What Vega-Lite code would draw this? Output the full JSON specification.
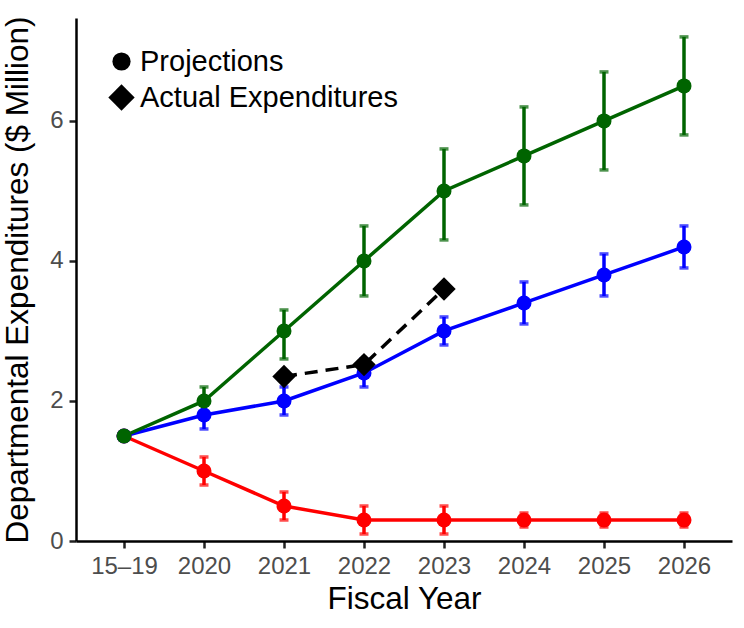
{
  "$schema": "https://vega.github.io/schema/vega-lite/v6.json",
  "width": 656,
  "height": 523,
  "autosize": {"type": "none"},
  "padding": {"left": 76, "top": 18, "right": 12, "bottom": 87},
  "background": "white",
  "config": {
    "view": {"stroke": null},
    "font": "Liberation Sans",
    "axis": {
      "domainColor": "black",
      "domainWidth": 2.5,
      "tickColor": "#222222",
      "tickWidth": 2.5,
      "tickSize": 7,
      "labelColor": "#4d4d4d",
      "labelFont": "Liberation Sans",
      "labelFontSize": 24,
      "titleFont": "Liberation Sans",
      "titleFontSize": 31.5,
      "titleFontWeight": "normal",
      "titleColor": "black",
      "grid": false
    },
    "legend": {
      "labelFont": "Liberation Sans",
      "labelFontSize": 29,
      "labelColor": "black",
      "labelLimit": 0
    }
  },
  "datasets": {
    "proj": [
      {"year": "15–19", "scenario": "low", "value": 1.5, "lo": 1.5, "hi": 1.5},
      {"year": "2020", "scenario": "low", "value": 1.0, "lo": 0.8, "hi": 1.2},
      {"year": "2021", "scenario": "low", "value": 0.5, "lo": 0.3, "hi": 0.7},
      {"year": "2022", "scenario": "low", "value": 0.3, "lo": 0.1, "hi": 0.5},
      {"year": "2023", "scenario": "low", "value": 0.3, "lo": 0.1, "hi": 0.5},
      {"year": "2024", "scenario": "low", "value": 0.3, "lo": 0.2, "hi": 0.4},
      {"year": "2025", "scenario": "low", "value": 0.3, "lo": 0.2, "hi": 0.4},
      {"year": "2026", "scenario": "low", "value": 0.3, "lo": 0.2, "hi": 0.4},
      {"year": "15–19", "scenario": "mid", "value": 1.5, "lo": 1.5, "hi": 1.5},
      {"year": "2020", "scenario": "mid", "value": 1.8, "lo": 1.6, "hi": 2.0},
      {"year": "2021", "scenario": "mid", "value": 2.0, "lo": 1.8, "hi": 2.2},
      {"year": "2022", "scenario": "mid", "value": 2.4, "lo": 2.2, "hi": 2.6},
      {"year": "2023", "scenario": "mid", "value": 3.0, "lo": 2.8, "hi": 3.2},
      {"year": "2024", "scenario": "mid", "value": 3.4, "lo": 3.1, "hi": 3.7},
      {"year": "2025", "scenario": "mid", "value": 3.8, "lo": 3.5, "hi": 4.1},
      {"year": "2026", "scenario": "mid", "value": 4.2, "lo": 3.9, "hi": 4.5},
      {"year": "15–19", "scenario": "high", "value": 1.5, "lo": 1.5, "hi": 1.5},
      {"year": "2020", "scenario": "high", "value": 2.0, "lo": 1.8, "hi": 2.2},
      {"year": "2021", "scenario": "high", "value": 3.0, "lo": 2.6, "hi": 3.3},
      {"year": "2022", "scenario": "high", "value": 4.0, "lo": 3.5, "hi": 4.5},
      {"year": "2023", "scenario": "high", "value": 5.0, "lo": 4.3, "hi": 5.6},
      {"year": "2024", "scenario": "high", "value": 5.5, "lo": 4.8, "hi": 6.2},
      {"year": "2025", "scenario": "high", "value": 6.0, "lo": 5.3, "hi": 6.7},
      {"year": "2026", "scenario": "high", "value": 6.5, "lo": 5.8, "hi": 7.2}
    ],
    "actual": [
      {"year": "2021", "value": 2.35},
      {"year": "2022", "value": 2.52},
      {"year": "2023", "value": 3.6}
    ]
  },
  "encoding": {
    "x": {
      "field": "year",
      "type": "ordinal",
      "scale": {"type": "point", "padding": 0.6, "domain": ["15–19", "2020", "2021", "2022", "2023", "2024", "2025", "2026"]},
      "axis": {"title": "Fiscal Year", "labelAngle": 0, "labelPadding": 6, "titlePadding": 5}
    }
  },
  "layer": [
    {
      "mark": {"type": "rule", "color": "#bdbdbd", "strokeWidth": 3, "strokeDash": [4, 11]},
      "encoding": {"x": {"datum": "2023", "type": "ordinal"}}
    },
    {
      "data": {"name": "proj"},
      "layer": [
        {
          "mark": {"type": "line", "strokeWidth": 3.5},
          "encoding": {
            "y": {
              "field": "value",
              "type": "quantitative",
              "scale": {"domain": [0, 7.47], "nice": false, "zero": false},
              "axis": {"title": "Departmental Expenditures ($ Million)", "values": [0, 2, 4, 6], "format": "d", "labelPadding": 6, "titlePadding": 15}
            },
            "color": {"field": "scenario", "type": "nominal", "scale": {"domain": ["low", "mid", "high"], "range": ["#ff0000", "#0000ff", "#006400"]}, "legend": null}
          }
        },
        {
          "mark": {"type": "rule", "strokeWidth": 3.5},
          "encoding": {
            "y": {"field": "lo", "type": "quantitative"},
            "y2": {"field": "hi"},
            "color": {"field": "scenario", "type": "nominal", "legend": null}
          }
        },
        {
          "mark": {"type": "tick", "orient": "horizontal", "size": 9, "thickness": 3.5},
          "encoding": {
            "y": {"field": "lo", "type": "quantitative"},
            "color": {"field": "scenario", "type": "nominal", "legend": null}
          }
        },
        {
          "mark": {"type": "tick", "orient": "horizontal", "size": 9, "thickness": 3.5},
          "encoding": {
            "y": {"field": "hi", "type": "quantitative"},
            "color": {"field": "scenario", "type": "nominal", "legend": null}
          }
        },
        {
          "mark": {"type": "point", "filled": true, "opacity": 1, "size": 225},
          "encoding": {
            "y": {"field": "value", "type": "quantitative"},
            "color": {"field": "scenario", "type": "nominal", "legend": null},
            "shape": {"datum": "Projections"}
          }
        }
      ]
    },
    {
      "data": {"name": "actual"},
      "layer": [
        {
          "mark": {"type": "line", "color": "black", "strokeWidth": 3.5, "strokeDash": [13, 8]},
          "encoding": {"y": {"field": "value", "type": "quantitative"}}
        },
        {
          "mark": {"type": "point", "filled": true, "opacity": 1, "size": 260, "color": "black"},
          "encoding": {
            "y": {"field": "value", "type": "quantitative"},
            "shape": {
              "datum": "Actual Expenditures",
              "scale": {"domain": ["Projections", "Actual Expenditures"], "range": ["circle", "M-1.45,0L0,-1.45L1.45,0L0,1.45Z"]},
              "legend": {
                "title": null,
                "orient": "none",
                "legendX": 31,
                "legendY": 29,
                "symbolSize": 330,
                "symbolFillColor": "black",
                "symbolStrokeColor": "black",
                "symbolOpacity": 1,
                "rowPadding": 4,
                "labelOffset": 4,
                "labelLimit": 0,
                "labelExpr": "indexof(datum.label, 'Actual') >= 0 ? '\u2002Actual Expenditures' : datum.label",
                "encode": {"symbols": {"update": {"fill": {"value": "black"}, "stroke": {"value": "black"}, "opacity": {"value": 1}}}}
              }
            }
          }
        }
      ]
    }
  ]
}
